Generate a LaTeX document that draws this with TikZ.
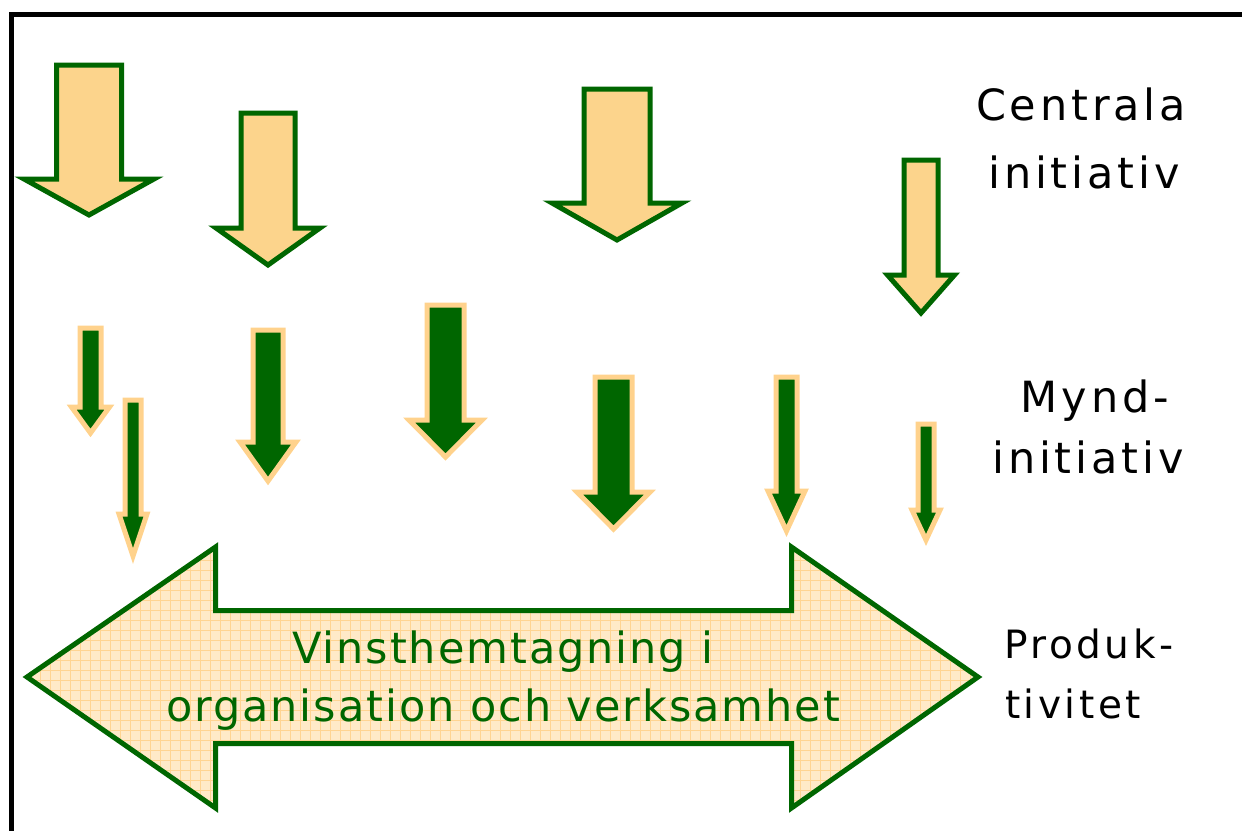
\documentclass[tikz,border=0pt]{standalone}
\usepackage{fontspec}
\newfontfamily\labfont[LetterSpace=9]{DejaVu Sans}
\newfontfamily\mainfont[LetterSpace=4.5]{DejaVu Sans}
\definecolor{dkgreen}{RGB}{0,102,0}
\definecolor{bigfill}{RGB}{252,212,140}
\definecolor{smallrim}{RGB}{255,210,140}
\definecolor{gridbg}{RGB}{255,234,200}
\definecolor{gridln}{RGB}{255,212,146}
\newcommand\dnarrow[6]{% cx, half shaft, top, head y, half head, tip
  ({#1-#2},#3) -- ({#1+#2},#3) -- ({#1+#2},#4) -- ({#1+#5},#4) -- (#1,#6) -- ({#1-#5},#4) -- ({#1-#2},#4) -- cycle}
\begin{document}
\begin{tikzpicture}[x=1pt,y=-1pt,
  bigarrow/.style={draw=dkgreen,fill=bigfill,line width=5pt,miter limit=10},
  smallarrow/.style={draw=smallrim,fill=dkgreen,line width=5pt,miter limit=10},
  lab/.style={inner sep=0pt,anchor=base,font=\labfont\fontsize{43}{50}\selectfont},
  labp/.style={inner sep=0pt,anchor=base west,font=\labfont\fontsize{39}{46}\selectfont},
  maintxt/.style={inner sep=0pt,anchor=base,text=dkgreen,font=\mainfont\fontsize{43}{50}\selectfont}]
\useasboundingbox (0,0) rectangle (1242,830);
\clip (0,0) rectangle (1242,830);
\fill[white] (0,0) rectangle (1242,830);
% frame
\draw[line width=5pt,black] (11.5,840) -- (11.5,14.5) -- (1250,14.5);
% big orange arrows
\draw[bigarrow] \dnarrow{89}{32.5}{65}{179}{65}{215};
\draw[bigarrow] \dnarrow{268}{27}{113}{228}{52}{265};
\draw[bigarrow] \dnarrow{617}{33}{89}{203}{65}{240};
\draw[bigarrow] \dnarrow{921}{17}{160}{275}{33.5}{313};
% small green arrows
\draw[smallarrow] \dnarrow{90.5}{10.5}{328}{407}{19}{433};
\draw[smallarrow] \dnarrow{133}{8}{400}{514}{14}{556};
\draw[smallarrow] \dnarrow{268}{15}{330}{442}{28}{481};
\draw[smallarrow] \dnarrow{445.5}{18.5}{305}{420}{36.5}{457};
\draw[smallarrow] \dnarrow{613.5}{18.5}{377}{492}{36.5}{529};
\draw[smallarrow] \dnarrow{786.5}{10.5}{377}{491}{18.5}{531};
\draw[smallarrow] \dnarrow{926}{8}{424}{510}{14}{540};
% double arrow
\def\dbl{(27,677) -- (215.5,547) -- (215.5,610.5) -- (791.5,610.5) -- (791.5,547) -- (978,677) -- (791.5,808) -- (791.5,743.5) -- (215.5,743.5) -- (215.5,808) -- cycle}
\begin{scope}
  \clip \dbl;
  \fill[gridbg] (0,530) rectangle (1000,830);
  \draw[gridln,line width=0.8pt] (4,530) grid[step=10pt] (1000,830);
\end{scope}
\draw[draw=dkgreen,line width=5pt,miter limit=10] \dbl;
% texts
\node[maintxt] (t1) at (503,663.3) {Vinsthemtagning i};
\node[maintxt] (t2) at (503,721.7) {organisation och verksamhet};
\node[lab] (c1) at (1081,120.7) {Centrala};
\node[lab] (c2) at (1084,188) {initiativ};
\node[lab] (m1) at (1095,412) {Mynd-};
\node[lab] (m2) at (1088,473) {initiativ};
\node[labp] (p1) at (1004,658) {Produk-};
\node[labp] (p2) at (1005,718) {tivitet};
\end{tikzpicture}
\end{document}
